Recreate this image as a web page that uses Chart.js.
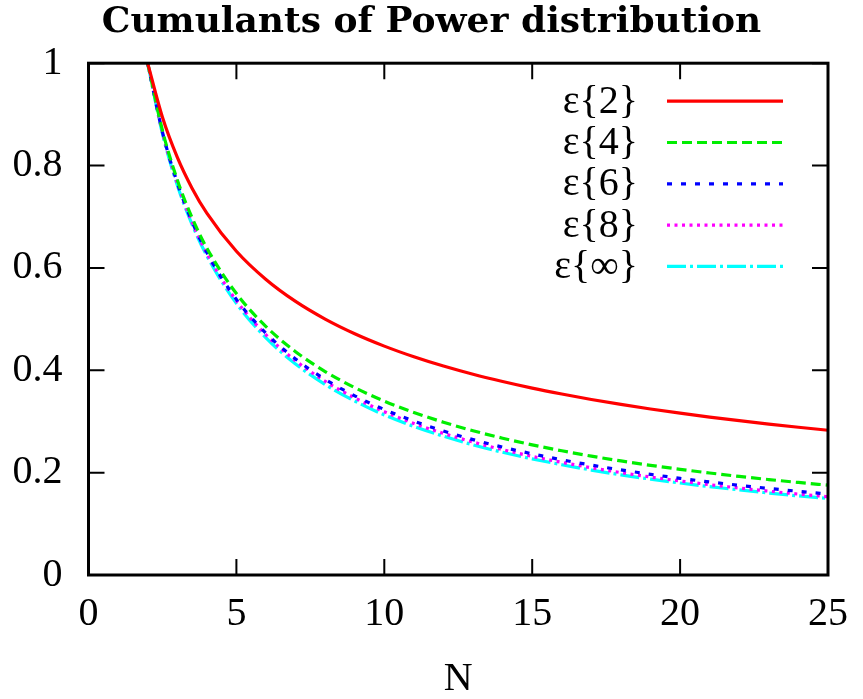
<!DOCTYPE html>
<html>
<head>
<meta charset="utf-8">
<script src="https://cdn.jsdelivr.net/npm/chart.js@4.4.0/dist/chart.umd.min.js"></script>
<style>
  html, body { margin: 0; padding: 0; background: #fff; }
</style>
</head>
<body>
<canvas id="myChart" width="863" height="699"></canvas>
<script>
/* values */
const nValues = [2, 2.5, 3, 3.5, 4, 5, 6, 7, 8, 9, 10, 11, 12, 13, 14, 15, 16, 17, 18, 19, 20, 21, 22, 23, 24, 25];
const eps2 = [1, 0.8944, 0.8165, 0.7559, 0.7071, 0.6325, 0.5774, 0.5345, 0.5, 0.4714, 0.4472, 0.4264, 0.4082, 0.3922, 0.3780, 0.3651, 0.3536, 0.3430, 0.3333, 0.3244, 0.3162, 0.3086, 0.3015, 0.2949, 0.2887, 0.2828];
const eps4 = [1, 0.8685, 0.7722, 0.6981, 0.6389, 0.5499, 0.4855, 0.4364, 0.3976, 0.3661, 0.3398, 0.3176, 0.2985, 0.2819, 0.2673, 0.2543, 0.2427, 0.2323, 0.2229, 0.2143, 0.2065, 0.1993, 0.1926, 0.1865, 0.1808, 0.1755];
const eps6 = [1, 0.8654, 0.7667, 0.6907, 0.6300, 0.5385, 0.4724, 0.4221, 0.3824, 0.3501, 0.3234, 0.3007, 0.2814, 0.2645, 0.2498, 0.2368, 0.2251, 0.2147, 0.2053, 0.1967, 0.1889, 0.1818, 0.1752, 0.1691, 0.1635, 0.1582];
const eps8 = [1, 0.8649, 0.7658, 0.6893, 0.6282, 0.5360, 0.4694, 0.4187, 0.3786, 0.3461, 0.3191, 0.2962, 0.2767, 0.2598, 0.2449, 0.2318, 0.2201, 0.2096, 0.2001, 0.1915, 0.1837, 0.1765, 0.1699, 0.1638, 0.1581, 0.1529];
const epsInf = [1, 0.8623, 0.7620, 0.6852, 0.6238, 0.5306, 0.4633, 0.4124, 0.3722, 0.3399, 0.3127, 0.2903, 0.2712, 0.2543, 0.2398, 0.2269, 0.2155, 0.2050, 0.1957, 0.1873, 0.1797, 0.1726, 0.1662, 0.1602, 0.1546, 0.1495];
const seriesLabels = ['ε{2}', 'ε{4}', 'ε{6}', 'ε{8}', 'ε{∞}'];
const xTicks = [0, 5, 10, 15, 20, 25];
const yTicks = [0, 0.2, 0.4, 0.6, 0.8, 1];

const serif = "'Liberation Serif', 'Times New Roman', serif";

function pts(vals) {
  return nValues.map((n, i) => ({x: n, y: vals[i]}));
}

function mkSet(label, vals, color, dash) {
  return {
    label: label,
    data: pts(vals),
    borderColor: color,
    backgroundColor: color,
    borderWidth: 3.2,
    borderDash: dash,
    pointRadius: 0,
    cubicInterpolationMode: 'monotone',
    fill: false
  };
}

/* box round the plot, ticks pointing inwards, and the legend inside */
const gnuplotFrame = {
  id: 'gnuplotFrame',
  afterDatasetsDraw(chart) {
    const ctx = chart.ctx;
    const a = chart.chartArea;
    const xs = chart.scales.x, ys = chart.scales.y;
    const len = 16;
    ctx.save();
    ctx.strokeStyle = '#000';
    ctx.lineWidth = 2;
    ctx.beginPath();
    xTicks.forEach(v => {
      const px = xs.getPixelForValue(v);
      ctx.moveTo(px, a.bottom); ctx.lineTo(px, a.bottom - len);
      ctx.moveTo(px, a.top); ctx.lineTo(px, a.top + len);
    });
    yTicks.forEach(v => {
      const py = ys.getPixelForValue(v);
      ctx.moveTo(a.left, py); ctx.lineTo(a.left + len, py);
      ctx.moveTo(a.right, py); ctx.lineTo(a.right - len, py);
    });
    ctx.stroke();
    ctx.lineWidth = 3;
    ctx.strokeRect(a.left, a.top, a.right - a.left, a.bottom - a.top);

    // legend
    ctx.font = '40px ' + serif;
    ctx.fillStyle = '#000';
    ctx.textAlign = 'right';
    ctx.textBaseline = 'middle';
    chart.data.datasets.forEach((ds, i) => {
      const yy = a.top + 38 + i * 41.3;
      ctx.fillText(ds.label, 638, yy + 1);
      ctx.save();
      ctx.strokeStyle = ds.borderColor;
      ctx.lineWidth = 3.2;
      ctx.setLineDash(ds.borderDash || []);
      ctx.beginPath();
      ctx.moveTo(667, yy);
      ctx.lineTo(783, yy);
      ctx.stroke();
      ctx.restore();
    });
    ctx.restore();
  }
};

const ctx = document.getElementById('myChart').getContext('2d');
const powerChart = new Chart(ctx, {
  type: 'line',
  data: {
    datasets: [
      mkSet(seriesLabels[0], eps2, '#ff0000', []),
      mkSet(seriesLabels[1], eps4, '#00ee00', [10, 5]),
      mkSet(seriesLabels[2], eps6, '#0000ff', [5, 9]),
      mkSet(seriesLabels[3], eps8, '#ff00ff', [3, 4.5]),
      mkSet(seriesLabels[4], epsInf, '#00ffff', [19, 4, 3, 4])
    ]
  },
  options: {
    responsive: false,
    animation: false,
    devicePixelRatio: 1,
    layout: { padding: 0 },
    plugins: {
      legend: { display: false },
      tooltip: { enabled: false },
      title: {
        display: true,
        text: 'Cumulants of Power distribution',
        color: '#000',
        font: { family: "'DejaVu Serif', serif", size: 36, weight: 'bold', lineHeight: 1.2 },
        padding: { top: 1, bottom: 19 }
      }
    },
    scales: {
      x: {
        type: 'linear',
        min: 0,
        max: 25,
        afterFit(scale) { scale.height = 124; },
        afterBuildTicks(scale) { scale.ticks = xTicks.map(v => ({value: v})); },
        ticks: {
          color: '#000',
          font: { family: serif, size: 40 },
          padding: 15,
          maxRotation: 0
        },
        grid: { display: false, drawTicks: false },
        border: { display: false },
        title: {
          display: true,
          text: 'N',
          color: '#000',
          font: { family: serif, size: 40, lineHeight: 1 },
          padding: 0
        }
      },
      y: {
        type: 'linear',
        min: 0,
        max: 1,
        afterFit(scale) { scale.width = 88.5; },
        afterBuildTicks(scale) { scale.ticks = yTicks.map(v => ({value: v})); },
        ticks: {
          color: '#000',
          font: { family: serif, size: 40 },
          padding: 26,
          callback: v => String(parseFloat(v.toFixed(1)))
        },
        grid: { display: false, drawTicks: false },
        border: { display: false }
      },
      yRight: {
        type: 'linear',
        position: 'right',
        min: 0,
        max: 1,
        afterFit(scale) { scale.width = 30; },
        ticks: { display: false },
        grid: { display: false, drawTicks: false },
        border: { display: false }
      }
    }
  },
  plugins: [gnuplotFrame]
});
</script>
</body>
</html>
